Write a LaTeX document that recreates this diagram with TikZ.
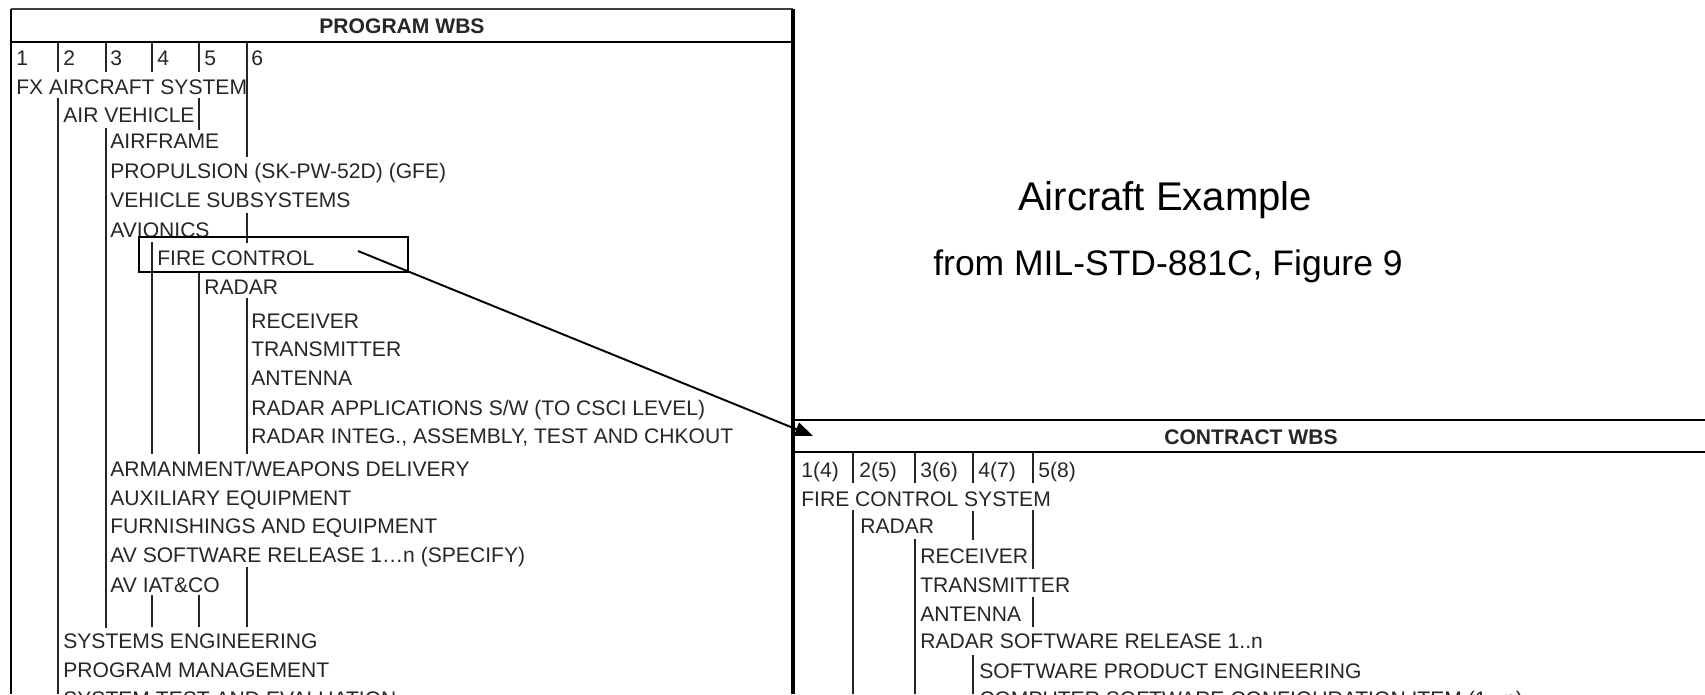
\documentclass[tikz,border=0pt]{standalone}
\usepackage{fontspec}
\setmainfont{Liberation Sans}
\usetikzlibrary{arrows.meta}
\newcommand{\wbsfont}{\fontsize{12}{14}\selectfont}

\begin{document}
\begin{tikzpicture}[x=0.02cm,y=-0.02cm,
  item/.style={anchor=base west,inner sep=0pt,font=\wbsfont,text=black!85},
  head/.style={anchor=base,inner sep=0pt,font=\wbsfont\bfseries,text=black!85},
  rule/.style={line width=0.85pt,black!85},
  frame/.style={line width=1.4pt},
  ttl/.style={anchor=base,inner sep=0pt}]
  \useasboundingbox (0,0) rectangle (1705,694);
  \clip (0,0) rectangle (1705,694);
  % program wbs frame
  \draw[black!75,line width=1.1pt] (11,9) -- (793,9);
  \draw[line width=1.1pt] (11,9) -- (11,694);
  \draw[line width=1.8pt] (793,9) -- (793,694);
  \draw[frame] (11,42) -- (793,42);
  \node[head] (pgmhdr) at (402,33) {PROGRAM WBS};
  \node[item] (pn1) at (16,65) {1};
  \node[item] (pn2) at (63,65) {2};
  \node[item] (pn3) at (110,65) {3};
  \node[item] (pn4) at (157,65) {4};
  \node[item] (pn5) at (204,65) {5};
  \node[item] (pn6) at (251,65) {6};
  \node[item] (fx) at (16,94) {FX AIRCRAFT SYSTEM};
  \node[item] (airveh) at (63,122) {AIR VEHICLE};
  \node[item] (airframe) at (110,148) {AIRFRAME};
  \node[item] (propul) at (110,178) {PROPULSION (SK-PW-52D) (GFE)};
  \node[item] (vehsub) at (110,207) {VEHICLE SUBSYSTEMS};
  \node[item] (avion) at (110,237) {AVIONICS};
  \node[item] (firectl) at (157,265) {FIRE CONTROL};
  \node[item] (radar) at (204,294) {RADAR};
  \node[item] (recv) at (251,328) {RECEIVER};
  \node[item] (xmit) at (251,356) {TRANSMITTER};
  \node[item] (antenna) at (251,385) {ANTENNA};
  \node[item] (radapp) at (251,415) {RADAR APPLICATIONS S/W (TO CSCI LEVEL)};
  \node[item] (radint) at (251,443) {RADAR INTEG., ASSEMBLY, TEST AND CHKOUT};
  \node[item] (armament) at (110,476) {ARMANMENT/WEAPONS DELIVERY};
  \node[item] (auxeq) at (110,505) {AUXILIARY EQUIPMENT};
  \node[item] (furnish) at (110,533) {FURNISHINGS AND EQUIPMENT};
  \node[item] (avsw) at (110,562) {AV SOFTWARE RELEASE 1…n (SPECIFY)};
  \node[item] (aviat) at (110,592) {AV IAT\&CO};
  \node[item] (syseng) at (63,648) {SYSTEMS ENGINEERING};
  \node[item] (pgmmgt) at (63,677) {PROGRAM MANAGEMENT};
  \node[item] (systest) at (63,706) {SYSTEM TEST AND EVALUATION};
  % level rules
  \draw[rule] (58,43) -- (58,72) (58,98) -- (58,694);
  \draw[rule] (106,43) -- (106,72) (106,128) -- (106,628);
  \draw[rule] (152,43) -- (152,72) (152,242) -- (152,454) (152,595) -- (152,627);
  \draw[rule] (199,43) -- (199,72) (199,98) -- (199,130) (199,273) -- (199,454) (199,595) -- (199,627);
  \draw[rule] (247,43) -- (247,157) (247,213) -- (247,243) (247,298) -- (247,454) (247,567) -- (247,627);
  \draw[frame] (139,237) rectangle (408,272);
  % contract wbs frame
  \draw[frame] (794,420) -- (1705,420);
  \draw[frame] (794,452) -- (1705,452);
  \node[head] (ctrhdr) at (1251,444) {CONTRACT WBS};
  \node[item] (cn1) at (801,477) {1(4)};
  \node[item] (cn2) at (859,477) {2(5)};
  \node[item] (cn3) at (920,477) {3(6)};
  \node[item] (cn4) at (978,477) {4(7)};
  \node[item] (cn5) at (1038,477) {5(8)};
  \node[item] (fcs) at (801,506) {FIRE CONTROL SYSTEM};
  \node[item] (cradar) at (860,533) {RADAR};
  \node[item] (crecv) at (920,563) {RECEIVER};
  \node[item] (cxmit) at (920,592) {TRANSMITTER};
  \node[item] (cant) at (920,621) {ANTENNA};
  \node[item] (cradsw) at (920,648) {RADAR SOFTWARE RELEASE 1..n};
  \node[item] (swpe) at (979,678) {SOFTWARE PRODUCT ENGINEERING};
  \node[item] (csci) at (979,706) {COMPUTER SOFTWARE CONFIGURATION ITEM (1...n)};
  \draw[rule] (853,453) -- (853,483) (853,510) -- (853,694);
  \draw[rule] (915,453) -- (915,483) (915,539) -- (915,694);
  \draw[rule] (973,453) -- (973,483) (973,511) -- (973,540) (973,655) -- (973,694);
  \draw[rule] (1033,453) -- (1033,483) (1033,510) -- (1033,569) (1033,597) -- (1033,627);
  % link
  \coordinate (fcsrc) at (358,251);
  \coordinate (fctgt) at (813,436);
  \draw[line width=1.1pt,-{Triangle[length=0.36cm,width=0.28cm]}] (fcsrc) -- (fctgt);
  \node[ttl,font=\fontsize{22.8}{27}\selectfont] (title) at (1165,210) {Aircraft Example};
  \node[ttl,font=\fontsize{20.2}{24}\selectfont] (source) at (1168,275) {from MIL-STD-881C, Figure 9};
\end{tikzpicture}
\end{document}
